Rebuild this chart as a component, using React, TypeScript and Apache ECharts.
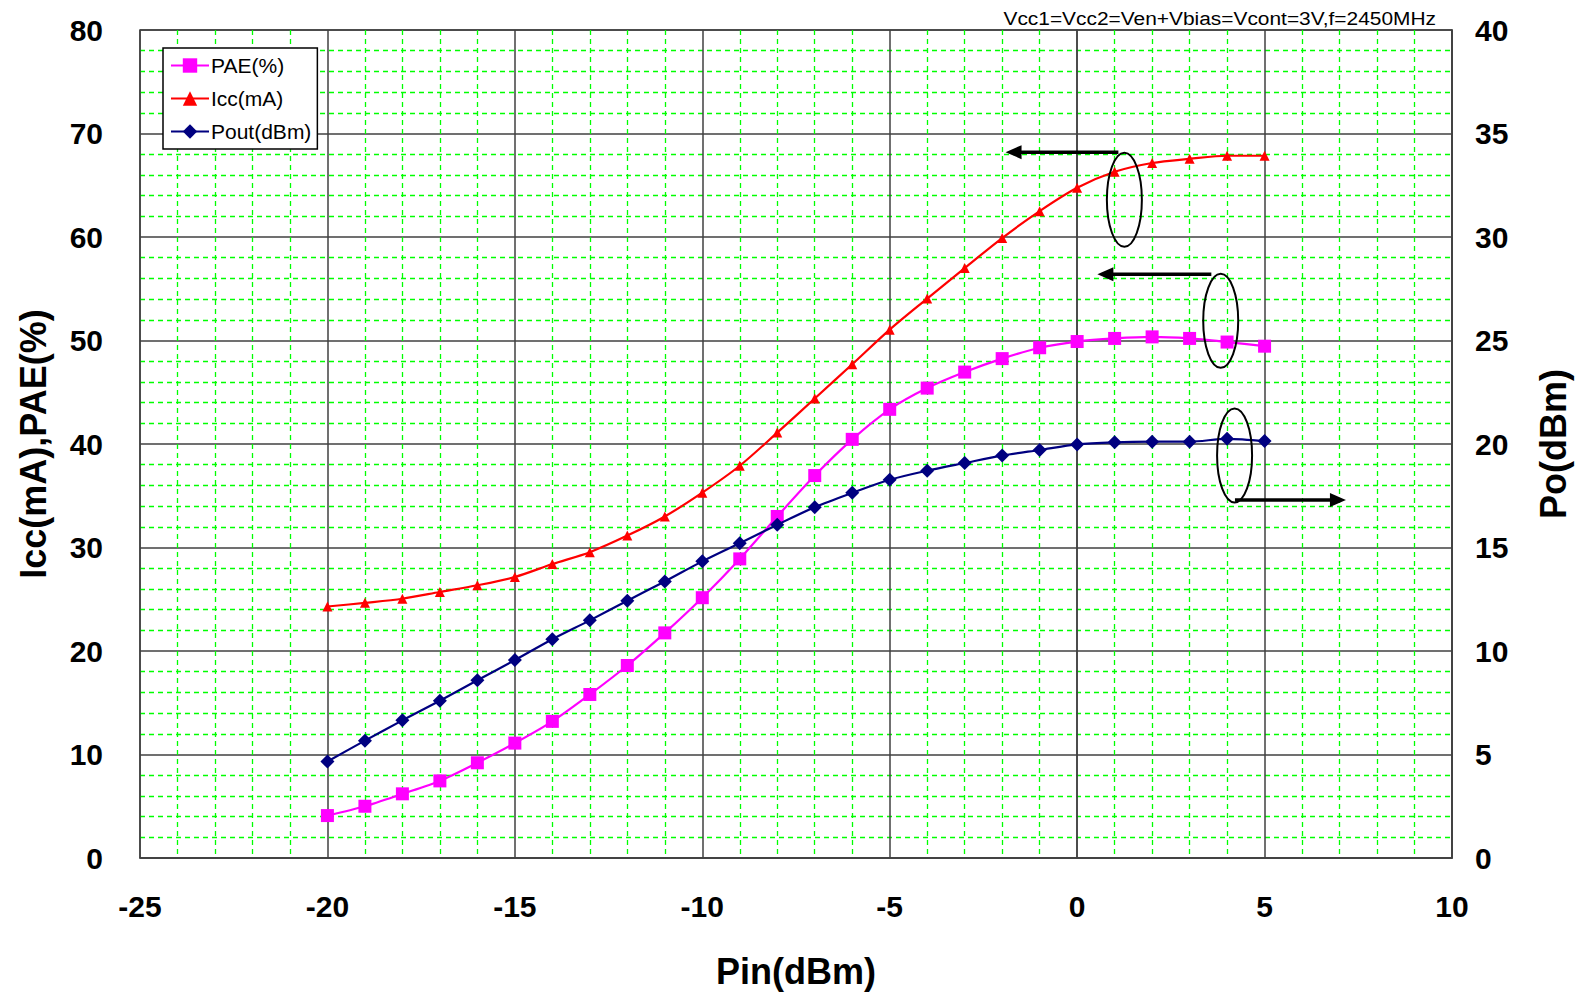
import React, { useEffect, useRef } from "react";
import * as echarts from "echarts";

// Input power (dBm)
const pin = [-20, -19, -18, -17, -16, -15, -14, -13, -12, -11, -10, -9, -8, -7, -6, -5, -4, -3, -2, -1, 0, 1, 2, 3, 4, 5];
// PAE (%) – left axis
const pae = [4.1, 5.0, 6.2, 7.45, 9.2, 11.1, 13.2, 15.8, 18.6, 21.75, 25.15, 28.9, 33.0, 36.95, 40.45, 43.35, 45.4, 46.95, 48.25, 49.3, 49.9, 50.2, 50.35, 50.2, 49.85, 49.45];
// Icc (mA) – left axis
const icc = [24.3, 24.65, 25.05, 25.7, 26.35, 27.15, 28.4, 29.55, 31.15, 33.0, 35.3, 37.9, 41.1, 44.4, 47.7, 51.05, 54.05, 57.0, 59.9, 62.5, 64.75, 66.3, 67.15, 67.55, 67.85, 67.85];
// Pout (dBm) – right axis
const pout = [4.66, 5.67, 6.65, 7.6, 8.59, 9.56, 10.57, 11.48, 12.43, 13.36, 14.33, 15.21, 16.1, 16.95, 17.64, 18.27, 18.71, 19.08, 19.44, 19.71, 19.98, 20.08, 20.11, 20.11, 20.25, 20.14];

const seriesNames = ["PAE(%)", "Icc(mA)", "Pout(dBm)"];
const seriesColors = ["#FF00FF", "#FF0000", "#000080"];
const noteText = "Vcc1=Vcc2=Ven+Vbias=Vcont=3V,f=2450MHz";

// annotation ellipses (centre in data coords of left axis) and arrows
const ellipseCenters = [[1.26, 63.6], [3.83, 51.9], [4.2, 38.9]];
const arrowLines = [
  [[1.1, 68.2], [-1.91, 68.2]],
  [[3.58, 56.4], [0.54, 56.4]],
  [[4.21, 34.6], [7.17, 34.6]],
];

const FONT = "'Liberation Sans', Arial, Helvetica, sans-serif";

export default function App() {
  const ref = useRef<HTMLDivElement>(null);
  useEffect(() => {
    if (!ref.current) return;
    const chart = echarts.init(ref.current, null, { renderer: "svg" });
    const mk = (vals: number[]) => pin.map((x, i) => [x, vals[i]]);
    const option: any = {
      animation: false,
      backgroundColor: "#ffffff",
      textStyle: { fontFamily: FONT },
      grid: {
        left: 140,
        top: 30,
        right: 124,
        bottom: 134,
        show: true,
        borderColor: "#404040",
        borderWidth: 1.5,
        backgroundColor: "#ffffff",
      },
      legend: {
        orient: "vertical",
        left: 163,
        top: 48,
        data: seriesNames,
        backgroundColor: "#ffffff",
        borderColor: "#000000",
        borderWidth: 1.5,
        borderRadius: 0,
        padding: [7, 6, 7, 7],
        itemWidth: 38,
        itemHeight: 18,
        itemGap: 12,
        textStyle: { fontSize: 21, color: "#000", fontFamily: FONT, padding: [0, 0, 0, -3] },
      },
      xAxis: {
        type: "value",
        min: -25,
        max: 10,
        interval: 5,
        name: "Pin(dBm)",
        nameLocation: "middle",
        nameGap: 95,
        nameTextStyle: { fontSize: 36, fontWeight: "bold", color: "#000", fontFamily: FONT },
        axisLine: { show: true, lineStyle: { color: "#404040", width: 1.5 } },
        axisTick: { show: false },
        axisLabel: { fontSize: 30, fontWeight: "bold", color: "#000", margin: 33, fontFamily: FONT },
        splitLine: { show: true, lineStyle: { color: "#404040", width: 1.5 } },
        minorTick: { show: false, splitNumber: 5 },
        minorSplitLine: { show: true, lineStyle: { color: "#00FF00", width: 1.3, type: [5, 4] } },
      },
      yAxis: [
        {
          type: "value",
          min: 0,
          max: 80,
          interval: 10,
          position: "left",
          name: "Icc(mA),PAE(%)",
          nameLocation: "middle",
          nameGap: 89,
          nameTextStyle: { fontSize: 36, fontWeight: "bold", color: "#000", fontFamily: FONT },
          axisLine: { show: true, lineStyle: { color: "#404040", width: 1.5 } },
          axisTick: { show: false },
          axisLabel: { fontSize: 30, fontWeight: "bold", color: "#000", margin: 37, fontFamily: FONT },
          splitLine: { show: true, lineStyle: { color: "#404040", width: 1.5 } },
          minorTick: { show: false, splitNumber: 5 },
          minorSplitLine: { show: true, lineStyle: { color: "#00FF00", width: 1.3, type: [5, 4] } },
        },
        {
          type: "value",
          min: 0,
          max: 40,
          interval: 5,
          position: "right",
          name: "Po(dBm)",
          nameLocation: "middle",
          nameGap: 83,
          nameTextStyle: { fontSize: 36, fontWeight: "bold", color: "#000", fontFamily: FONT },
          axisLine: { show: true, lineStyle: { color: "#404040", width: 1.5 } },
          axisTick: { show: false },
          axisLabel: { fontSize: 30, fontWeight: "bold", color: "#000", margin: 23, fontFamily: FONT },
          splitLine: { show: false },
        },
      ],
      series: [
        {
          name: seriesNames[0],
          type: "line",
          yAxisIndex: 0,
          data: mk(pae),
          smooth: 0.25,
          symbol: "rect",
          symbolSize: 13,
          color: seriesColors[0],
          lineStyle: { width: 2.2, color: seriesColors[0] },
          itemStyle: { color: seriesColors[0] },
          z: 4,
        },
        {
          name: seriesNames[1],
          type: "line",
          yAxisIndex: 0,
          data: mk(icc),
          smooth: 0.3,
          symbol: "triangle",
          symbolSize: 10,
          color: seriesColors[1],
          lineStyle: { width: 2.2, color: seriesColors[1] },
          itemStyle: { color: seriesColors[1] },
          z: 3,
        },
        {
          name: seriesNames[2],
          type: "line",
          yAxisIndex: 1,
          data: mk(pout),
          smooth: 0.3,
          symbol: "diamond",
          symbolSize: 14,
          color: seriesColors[2],
          lineStyle: { width: 2.2, color: seriesColors[2] },
          itemStyle: { color: seriesColors[2] },
          z: 5,
        },
      ],
    };
    chart.setOption(option);

    const toPx = (p: number[]) => chart.convertToPixel({ xAxisIndex: 0, yAxisIndex: 0 }, p) as number[];
    const graphics: any[] = [
      {
        type: "text",
        x: 1436,
        y: 18,
        scaleX: 1.1,
        z: 10,
        style: {
          text: noteText,
          x: 0,
          y: 0,
          textAlign: "right",
          textVerticalAlign: "middle",
          fontSize: 19,
          fontFamily: FONT,
          fill: "#000",
        },
      },
    ];
    ellipseCenters.forEach((c) => {
      const [cx, cy] = toPx(c);
      graphics.push({
        type: "ellipse",
        z: 10,
        shape: { cx, cy, rx: 17.5, ry: 47 },
        style: { fill: "none", stroke: "#000", lineWidth: 2 },
      });
    });
    arrowLines.forEach(([a, b]) => {
      const [x1, y1] = toPx(a);
      const [x2, y2] = toPx(b);
      const dir = x2 > x1 ? 1 : -1;
      const headLen = 16;
      graphics.push({
        type: "line",
        z: 10,
        shape: { x1, y1, x2: x2 - dir * headLen * 0.7, y2 },
        style: { stroke: "#000", lineWidth: 3.5 },
      });
      graphics.push({
        type: "polygon",
        z: 10,
        shape: {
          points: [
            [x2, y2],
            [x2 - dir * headLen, y2 - 7],
            [x2 - dir * headLen, y2 + 7],
          ],
        },
        style: { fill: "#000", stroke: "none" },
      });
    });
    chart.setOption({ graphic: graphics });

    return () => chart.dispose();
  }, []);
  return <div ref={ref} style={{ position: "fixed", left: 0, top: 0, width: 1579, height: 994 }} />;
}
